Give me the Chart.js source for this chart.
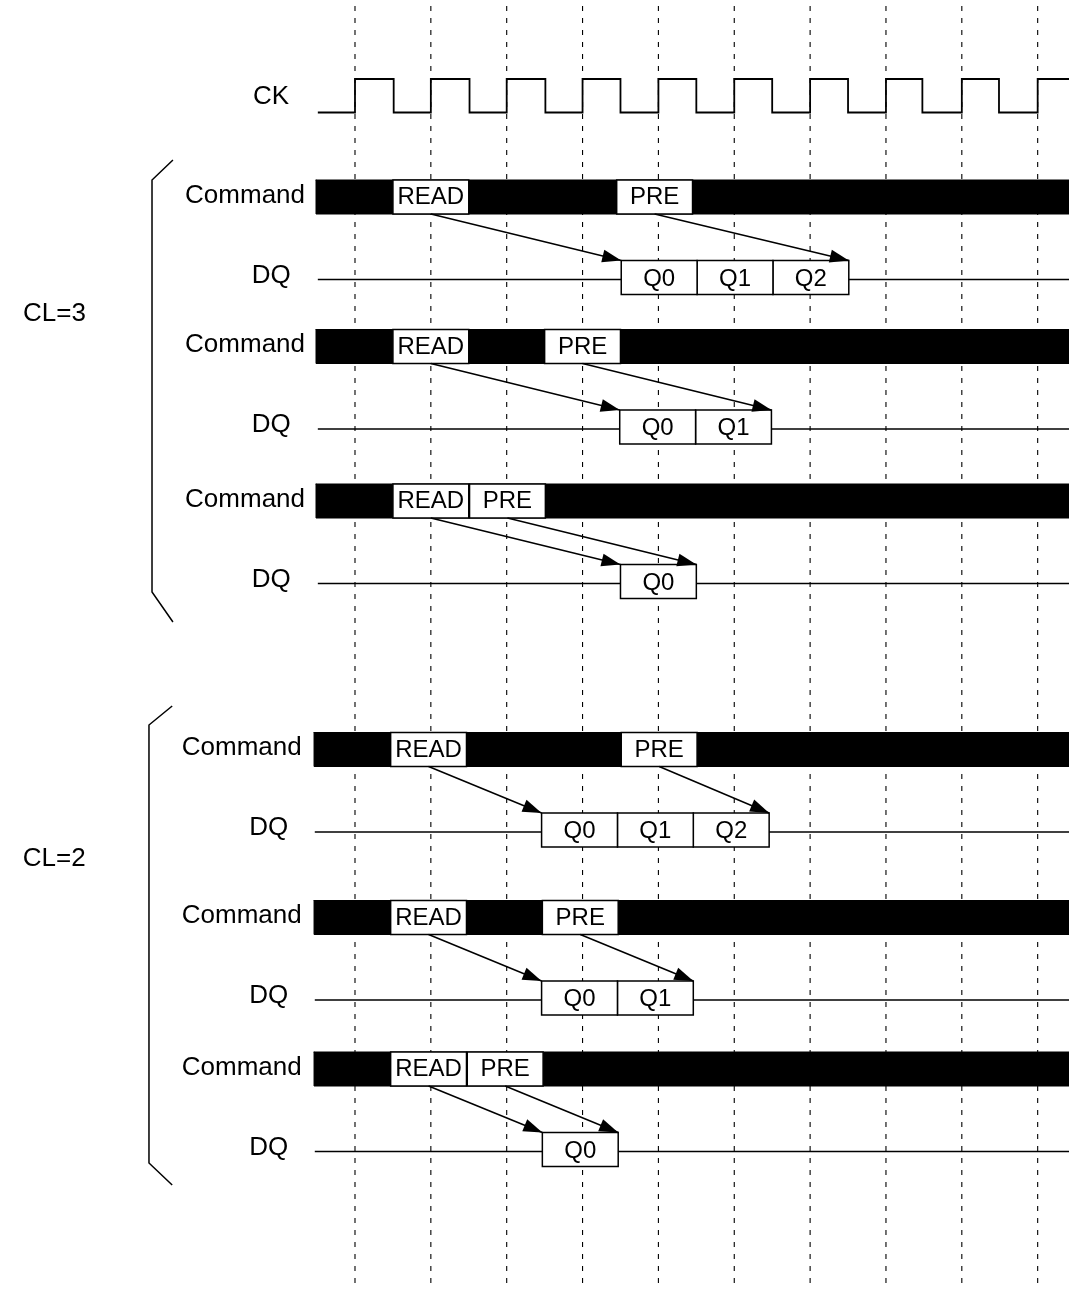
<!doctype html>
<html lang="en">
<head>
  <meta charset="utf-8">
  <title>READ to PRE timing, CL=3 / CL=2</title>
  <script src="https://cdn.jsdelivr.net/npm/chart.js@4.4.1/dist/chart.umd.min.js"></script>
  <style>
    html, body { margin: 0; padding: 0; background: #fff; }
    #timing { display: block; }
  </style>
</head>
<body>
  <canvas id="timing" width="1069" height="1290"></canvas>
<script>
  // ---- data (clock cycles on x) ----
  const signalNames = ['CK', 'Command', 'DQ'];
  const groupNames = ['CL=3', 'CL=2'];
  const clockEdges = [0, 1, 2, 3, 4, 5, 6, 7, 8, 9];
  // CK: time of each change and the level held after it
  const ckTimes  = [-0.49, 0, 0.51, 1, 1.51, 2, 2.51, 3, 3.5, 4, 4.5, 5, 5.5, 6, 6.5, 7, 7.48, 8, 8.49, 9];
  const ckLevels = [0, 1, 0, 1, 0, 1, 0, 1, 0, 1, 0, 1, 0, 1, 0, 1, 0, 1, 0, 1];
  // one entry per Command/DQ pair, top to bottom
  const rowGroup = [0, 0, 0, 1, 1, 1];
  const commandNames = ['READ', 'PRE'];
  const readAt = [1, 1, 1, 0.97, 0.97, 0.97];
  const preAt  = [3.95, 3, 2.01, 4.01, 2.97, 1.98];
  const q0At   = [4.01, 3.99, 4, 2.96, 2.96, 2.97];
  const burstWords = [['Q0', 'Q1', 'Q2'], ['Q0', 'Q1'], ['Q0'], ['Q0', 'Q1', 'Q2'], ['Q0', 'Q1'], ['Q0']];

  // ---- layout ----
  const X_MIN = -4.68, X_MAX = 9.413, Y_MAX = 1290;
  const layout = {
    ckHigh: 79, ckLow: 112.5, ckLabelX: -0.87,
    barTop: [180, 329.5, 484, 732.5, 900.5, 1052],
    barH: 34, gap: 46.5, boxH: 34, lineFromTop: 19
  };
  const groupLayout = [
    { barLeft: -0.514, lineLeft: -0.49, cmdLabelX: -0.659, dqLabelX: -0.848,
      bracketX: -2.676, bracketTipX: -2.40, bracketY: [160, 180, 592, 622], nameX: -3.961, nameY: 312 },
    { barLeft: -0.54, lineLeft: -0.53, cmdLabelX: -0.703, dqLabelX: -0.879,
      bracketX: -2.716, bracketTipX: -2.41, bracketY: [706, 725, 1163, 1185], nameX: -3.965, nameY: 857 }
  ];
  const FONT = '"Liberation Sans", Arial, Helvetica, sans-serif';

  function lineSet(points, opts) {
    return Object.assign({
      type: 'line', data: points, pointRadius: 0, pointHoverRadius: 0, fill: false,
      tension: 0, borderColor: '#000', borderWidth: 1.5,
      borderCapStyle: 'square', borderJoinStyle: 'miter'
    }, opts);
  }
  function rect(x0, x1, y0, y1, opts) {
    return lineSet([{x: x0, y: y0}, {x: x1, y: y0}, {x: x1, y: y1}, {x: x0, y: y1}, {x: x0, y: y0}],
      Object.assign({fill: 'shape', backgroundColor: '#fff'}, opts));
  }

  const datasets = [];
  const texts = [];
  const arrows = [];

  // dashed guides at every rising edge
  clockEdges.forEach(function(k) {
    datasets.push(lineSet([{x: k, y: 0}, {x: k, y: Y_MAX}],
      {borderColor: '#000', borderWidth: 1.1, borderDash: [5, 7], borderDashOffset: 6, borderCapStyle: 'butt', order: 90}));
  });

  // clock
  const ckData = ckTimes.map(function(t, i) {
    return {x: t, y: ckLevels[i] ? layout.ckHigh : layout.ckLow};
  });
  ckData.push({x: X_MAX, y: ckData[ckData.length - 1].y});
  datasets.push(lineSet(ckData, {stepped: 'before', borderWidth: 1.8, borderCapStyle: 'butt', order: 10}));
  texts.push({t: signalNames[0], x: layout.ckLabelX, y: (layout.ckHigh + layout.ckLow) / 2 - 1.5, size: 26, align: 'right'});

  // command / DQ rows
  readAt.forEach(function(r, i) {
    const g = groupLayout[rowGroup[i]];
    const barTop = layout.barTop[i];
    const barBot = barTop + layout.barH;
    const boxTop = barBot + layout.gap;
    const boxBot = boxTop + layout.boxH;
    const lineY = boxTop + layout.lineFromTop;
    const barMid = (barTop + barBot) / 2;
    const boxMid = (boxTop + boxBot) / 2;
    const words = burstWords[i];

    datasets.push(rect(g.barLeft, X_MAX + 0.2, barTop, barBot, {backgroundColor: '#000', borderWidth: 1, order: 50}));
    datasets.push(lineSet([{x: g.lineLeft, y: lineY}, {x: X_MAX + 0.2, y: lineY}], {borderCapStyle: 'butt', order: 45}));

    [r, preAt[i]].forEach(function(c, j) {
      datasets.push(rect(c - 0.5, c + 0.5, barTop, barBot, {order: 40}));
      texts.push({t: commandNames[j], x: c, y: barMid - 1.5, size: 24, align: 'center'});
    });
    words.forEach(function(w, j) {
      const c = q0At[i] + j;
      datasets.push(rect(c - 0.5, c + 0.5, boxTop, boxBot, {order: 40}));
      texts.push({t: w, x: c, y: boxMid - 0.5, size: 24, align: 'center'});
    });

    const readArrow = {from: [r, barBot], to: [q0At[i] - 0.5, boxTop]};
    const preArrow = {from: [preAt[i], barBot], to: [q0At[i] + words.length - 0.5, boxTop]};
    [readArrow, preArrow].forEach(function(a) {
      arrows.push(a);
      datasets.push(lineSet([{x: a.from[0], y: a.from[1]}, {x: a.to[0], y: a.to[1]}], {borderCapStyle: 'butt', order: 20}));
    });

    texts.push({t: signalNames[1], x: g.cmdLabelX, y: barMid - 3.5, size: 26, align: 'right'});
    texts.push({t: signalNames[2], x: g.dqLabelX, y: lineY - 6.3, size: 26, align: 'right'});
  });

  // brackets and CL names
  groupLayout.forEach(function(g, gi) {
    const b = g.bracketY;
    datasets.push(lineSet([
      {x: g.bracketTipX, y: b[0]}, {x: g.bracketX, y: b[1]},
      {x: g.bracketX, y: b[2]}, {x: g.bracketTipX, y: b[3]}
    ], {borderWidth: 1.5, borderCapStyle: 'butt', order: 10}));
    texts.push({t: groupNames[gi], x: g.nameX, y: g.nameY, size: 26, align: 'center'});
  });

  // arrow heads and all text
  const annotate = {
    id: 'annotate',
    afterDatasetsDraw(chart) {
      const ctx = chart.ctx;
      const xs = chart.scales.x, ys = chart.scales.y;
      ctx.save();
      ctx.fillStyle = '#000';
      arrows.forEach(function(a) {
        const x0 = xs.getPixelForValue(a.from[0]), y0 = ys.getPixelForValue(a.from[1]);
        const x1 = xs.getPixelForValue(a.to[0]), y1 = ys.getPixelForValue(a.to[1]);
        const ang = Math.atan2(y1 - y0, x1 - x0);
        const L = 19, W = 6.5;
        const bx = x1 - L * Math.cos(ang), by = y1 - L * Math.sin(ang);
        ctx.beginPath();
        ctx.moveTo(x1, y1);
        ctx.lineTo(bx + W * Math.sin(ang), by - W * Math.cos(ang));
        ctx.lineTo(bx - W * Math.sin(ang), by + W * Math.cos(ang));
        ctx.closePath();
        ctx.fill();
      });
      texts.forEach(function(s) {
        ctx.font = s.size + 'px ' + FONT;
        ctx.textAlign = s.align;
        ctx.textBaseline = 'alphabetic';
        ctx.fillText(s.t, xs.getPixelForValue(s.x), ys.getPixelForValue(s.y) + s.size * 0.358);
      });
      ctx.restore();
    }
  };

  new Chart(document.getElementById('timing'), {
    type: 'line',
    data: { datasets: datasets },
    options: {
      responsive: false,
      animation: false,
      events: [],
      layout: { padding: 0 },
      plugins: { legend: { display: false }, tooltip: { enabled: false } },
      scales: {
        x: { type: 'linear', min: X_MIN, max: X_MAX, display: false },
        y: { type: 'linear', min: 0, max: Y_MAX, reverse: true, display: false }
      }
    },
    plugins: [annotate]
  });
</script>
</body>
</html>
